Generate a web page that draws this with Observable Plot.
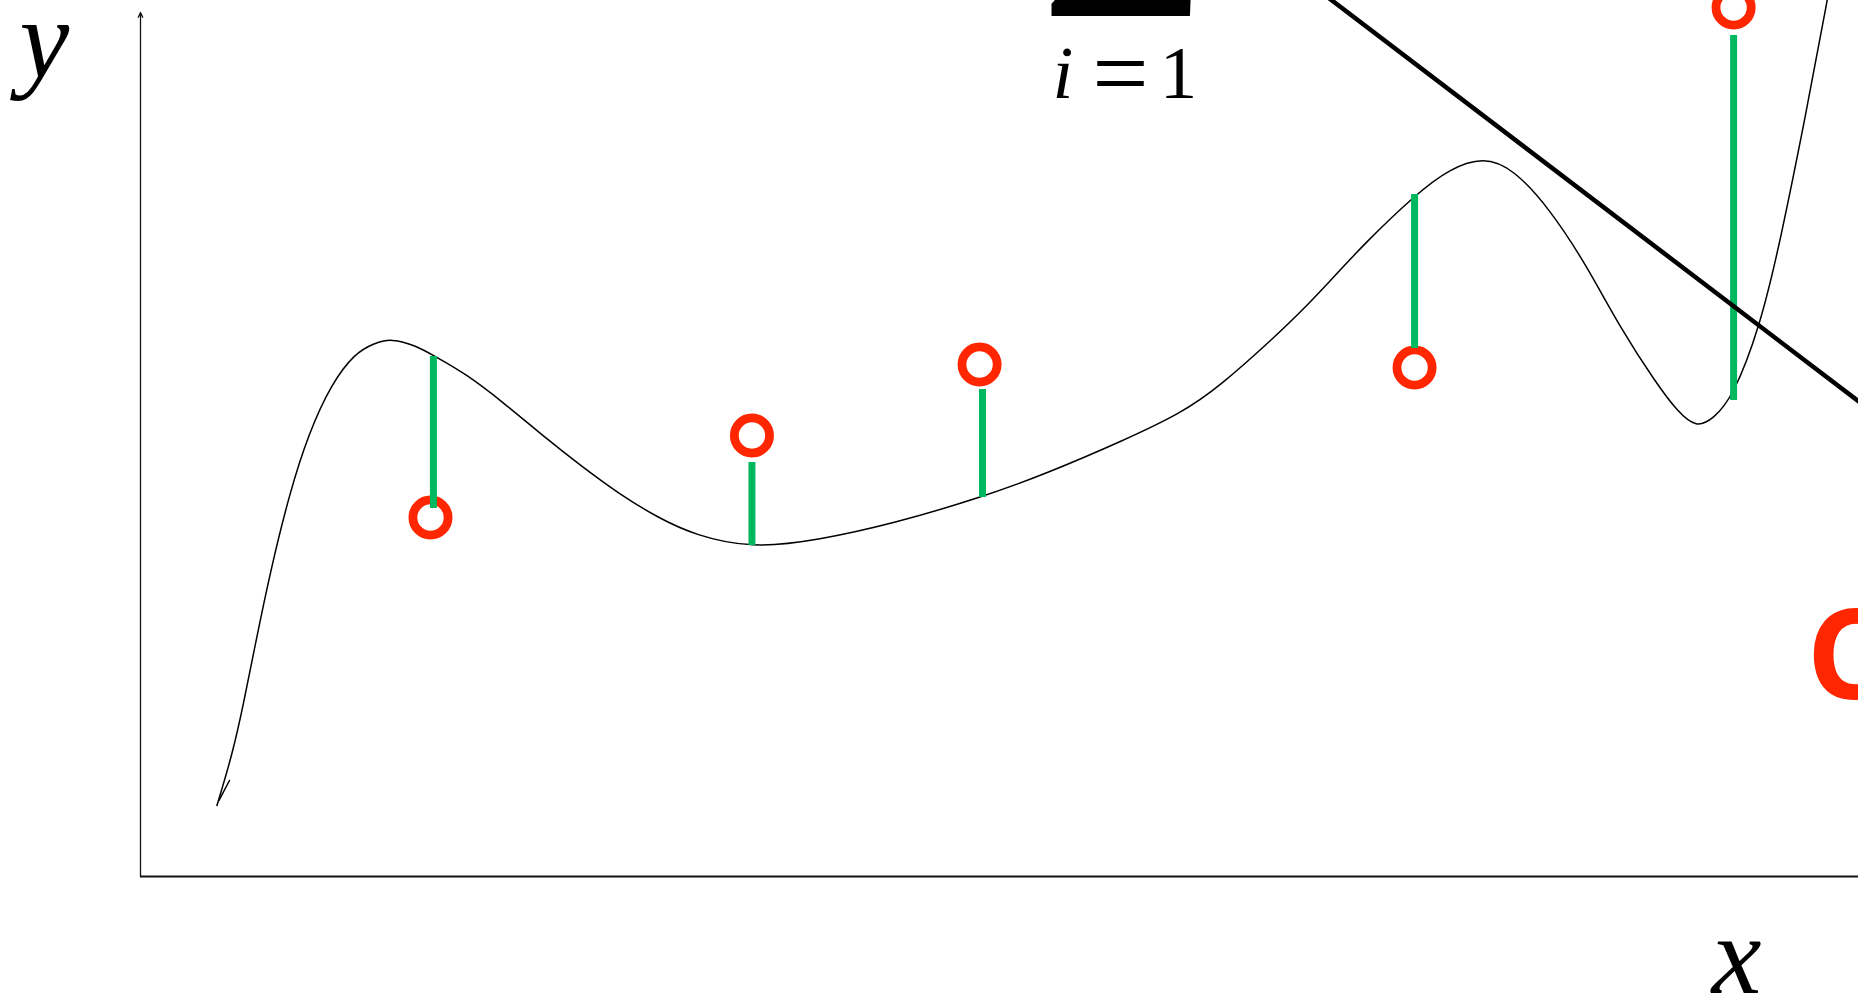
<!DOCTYPE html>
<html><head><meta charset="utf-8">
<script src="https://cdn.jsdelivr.net/npm/d3@7"></script>
<script src="https://cdn.jsdelivr.net/npm/@observablehq/plot@0.6"></script>
<style>html,body{margin:0;padding:0;background:#fff;overflow:hidden}#chart svg{display:block}</style>
</head><body><div id="chart"></div>
<script>
// smooth "true" curve (x, y in data units)
const curveX = [0.445,0.536,0.600,0.669,0.757,0.867,0.978,1.112,1.246,1.356,1.461,1.607,1.705,1.892,2.119,2.340,2.561,2.782,3.009,3.231,3.556,3.935,4.383,4.895,5.274,5.722,6.054,6.275,6.612,6.769,6.944,7.119,7.422,7.619,7.817,7.992,8.201,8.411,8.615,8.824,8.946,9.057,9.156,9.267,9.424,9.546,9.692,9.820,9.895];
const curveY = [0.822,1.424,2.002,2.697,3.542,4.433,5.127,5.706,6.053,6.169,6.230,6.140,6.030,5.822,5.475,5.104,4.757,4.433,4.155,3.947,3.800,3.889,4.086,4.387,4.664,5.046,5.359,5.660,6.262,6.565,6.933,7.315,7.894,8.190,8.330,8.190,7.731,7.095,6.343,5.706,5.382,5.190,5.301,5.544,6.343,7.361,8.808,10.139,11.065];
// small hook at start of curve
const hookX = [0.457, 0.518];
const hookY = [0.880, 1.111];
// observed points
const obsX = [1.688, 3.559, 4.884, 7.416, 9.273];
const obsY = [4.155, 5.104, 5.926, 5.891, 10.058];
// residual stems
const stemX = [1.705, 3.559, 4.901, 7.416, 9.273];
const stemTop = [6.019, 4.792, 5.637, 7.894, 9.734];
const stemBottom = [4.259, 3.831, 4.387, 6.111, 5.509];
// straight line fit
const lineX = [6.752, 10.07];
const lineY = [10.417, 5.394];
// axes
const yAxisRange = [0, 10];
const xAxisRange = [0, 10.05];
// labels
const axisLabels = ["y", "x"];
const axisLabelX = [-0.559, 9.29];
const axisLabelY = [9.248, -1.343];
const sumIndex = ["i"];
const sumIndexX = [5.308];
const sumIndexY = [9.005];
const sumEq = ["="];
const sumEqX = [5.704];
const sumEqY = [8.912];
const sumOne = ["1"];
const sumOneX = [6.042];
const sumOneY = [9.005];
const sigma = ["Σ"];
const sigmaX = [5.722];
const sigmaY = [9.954];
const redLetter = ["C"];
const redLetterX = [9.697];
const redLetterY = [2.060];

const curve = curveX.map((x, i) => [x, curveY[i]]);
const hook = hookX.map((x, i) => [x, hookY[i]]);
const fitLine = lineX.map((x, i) => [x, lineY[i]]);

const serif = "Liberation Serif";
const chart = Plot.plot({
  width: 1858,
  height: 994,
  marginLeft: 140,
  marginRight: 0,
  marginTop: 12,
  marginBottom: 118,
  style: {background: "#fff"},
  x: {domain: [0, 10], axis: null},
  y: {domain: [0, 10], axis: null},
  marks: [
    Plot.arrow([0], {x1: yAxisRange[0], x2: yAxisRange[0], y1: yAxisRange[0], y2: yAxisRange[1], stroke: "#111", strokeWidth: 1.3, headLength: 6, headAngle: 50}),
    Plot.ruleY([0], {x1: xAxisRange[0], x2: xAxisRange[1], stroke: "#111", strokeWidth: 2}),
    Plot.line(curve, {curve: "basis", stroke: "#000", strokeWidth: 1.5}),
    Plot.line(hook, {stroke: "#000", strokeWidth: 1.5}),
    Plot.dot(obsX, {x: obsX, y: obsY, r: 17.6, stroke: "#ff2600", strokeWidth: 8.8, fill: "none"}),
    Plot.ruleX(stemX, {x: stemX, y1: stemTop, y2: stemBottom, stroke: "#00b95e", strokeWidth: 7}),
    Plot.line(fitLine, {stroke: "#000", strokeWidth: 4.5}),
    Plot.text(axisLabels, {x: axisLabelX, y: axisLabelY, text: d => d, fontFamily: serif, fontStyle: "italic", fontSize: 112, lineAnchor: "bottom", textAnchor: "middle", fill: "#000"}),
    Plot.text(sumIndex, {x: sumIndexX, y: sumIndexY, text: d => d, fontFamily: serif, fontStyle: "italic", fontSize: 75, lineAnchor: "bottom", textAnchor: "start", fill: "#000"}),
    Plot.text(sumEq, {x: sumEqX, y: sumEqY, text: d => d, fontFamily: serif, fontSize: 100, lineAnchor: "bottom", textAnchor: "middle", fill: "#000"}),
    Plot.text(sumOne, {x: sumOneX, y: sumOneY, text: d => d, fontFamily: serif, fontSize: 75, lineAnchor: "bottom", textAnchor: "middle", fill: "#000"}),
    Plot.text(sigma, {x: sigmaX, y: sigmaY, text: d => d, fontFamily: serif, fontWeight: "bold", fontSize: 245, lineAnchor: "bottom", textAnchor: "middle", fill: "#000"}),
    Plot.text(redLetter, {x: redLetterX, y: redLetterY, text: d => d, fontFamily: "Open Sans", fontWeight: "bold", fontSize: 126, lineAnchor: "bottom", textAnchor: "start", fill: "#ff2600"})
  ]
});
document.getElementById("chart").append(chart);
</script></body></html>
